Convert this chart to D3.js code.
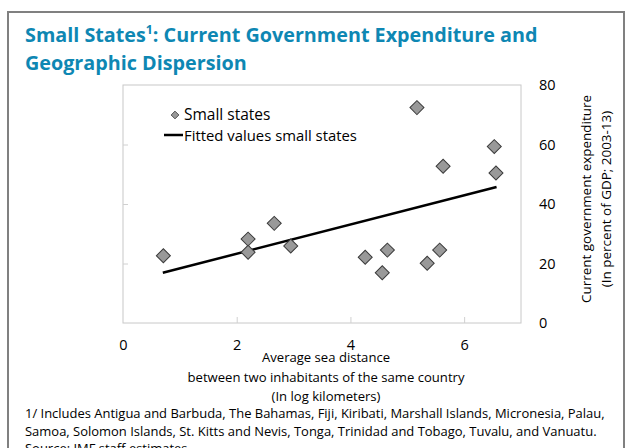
<!DOCTYPE html>
<html><head><meta charset="utf-8">
<script src="https://cdn.jsdelivr.net/npm/d3@7"></script>
<style>body{margin:0;background:#fff}svg{display:block}</style>
</head><body>
<script>
// Data
const distance = [0.71, 2.20, 2.20, 2.66, 2.95, 4.26, 4.56, 4.65, 5.17, 5.35, 5.57, 5.63, 6.53, 6.56];
const expenditure = [22.6, 28.2, 23.8, 33.5, 25.9, 22.1, 16.9, 24.5, 72.4, 20.1, 24.5, 52.7, 59.3, 50.4];
const fitX = [0.70, 6.57];
const fitY = [16.9, 45.7];
const xTicks = [0, 2, 4, 6];
const yTicks = [0, 20, 40, 60, 80];
const seriesNames = ["Small states", "Fitted values small states"];
const titleLines = ["Small States", ": Current Government Expenditure and", "Geographic Dispersion"];
const xTitle = ["Average sea distance", "between two inhabitants of the same country", "(In log kilometers)"];
const yTitle = ["Current government expenditure", "(In percent of GDP; 2003-13)"];
const notes = ["1/ Includes Antigua and Barbuda, The Bahamas, Fiji, Kiribati, Marshall Islands, Micronesia, Palau,",
  "Samoa, Solomon Islands, St. Kitts and Nevis, Tonga, Trinidad and Tobago, Tuvalu, and Vanuatu.",
  "Source: IMF staff estimates."];

const W = 626, H = 448;
const font = "'Open Sans', 'Noto Sans', sans-serif";
const svg = d3.select("body").append("svg").attr("width", W).attr("height", H);

// scale a text's font size so that it spans a target width
function fit(sel, target) {
  sel.each(function() {
    const fs = parseFloat(this.getAttribute("font-size"));
    const w = this.getComputedTextLength();
    if (w > 0) this.setAttribute("font-size", (fs * target / w).toFixed(2));
  });
}

// frame
svg.append("rect").attr("x", 8).attr("y", 12).attr("width", 616).attr("height", 450)
  .attr("fill", "none").attr("stroke", "#808080").attr("stroke-width", 2);

// title
const title = svg.append("text").attr("x", 25).attr("y", 42).attr("fill", "#0e87b3")
  .attr("font-family", font).attr("font-weight", 700).attr("font-size", 19);
title.append("tspan").text(titleLines[0]);
title.append("tspan").text("1").attr("font-size", 12).attr("dy", -8);
title.append("tspan").text(titleLines[1]).attr("dy", 8);
{
  const w = title.node().getComputedTextLength();
  const fs = 19 * 513 / w;
  title.attr("font-size", fs.toFixed(2));
  title.select("tspan:nth-child(2)").attr("font-size", (fs * 0.62).toFixed(2)).attr("dy", -fs * 0.42);
  title.select("tspan:nth-child(3)").attr("dy", fs * 0.42);
  svg.append("text").attr("x", 25).attr("y", 70).attr("fill", "#0e87b3")
    .attr("font-family", font).attr("font-weight", 700).attr("font-size", fs.toFixed(2))
    .text(titleLines[2]);
}

const L = 123, R = 521, T = 85, B = 323;
const x = d3.scaleLinear().domain([0, 7]).range([L, R]);
const y = d3.scaleLinear().domain([0, 80]).range([B, T]);

// plot border
svg.append("rect").attr("x", L).attr("y", T).attr("width", R - L).attr("height", B - T)
  .attr("fill", "none").attr("stroke", "#c8c8c8").attr("stroke-width", 1);

// inner ticks
const xAxis = svg.append("g").attr("transform", `translate(0,${B})`)
  .call(d3.axisTop(x).tickValues(xTicks.slice(1)).tickSize(6).tickFormat(""));
xAxis.select(".domain").remove();
xAxis.selectAll("line").attr("stroke", "#d0d0d0");
const xLab = svg.append("g").attr("transform", `translate(0,${B})`)
  .call(d3.axisBottom(x).tickValues(xTicks).tickSize(0).tickPadding(17).tickFormat(d3.format("d")));
xLab.select(".domain").remove();
xLab.selectAll("text").attr("font-family", font).attr("font-size", 14.5).attr("fill", "#000");

const yAxis = svg.append("g").attr("transform", `translate(${L},0)`)
  .call(d3.axisRight(y).tickValues(yTicks.slice(1, 4)).tickSize(5).tickFormat(""));
yAxis.select(".domain").remove();
yAxis.selectAll("line").attr("stroke", "#d0d0d0");
const yLab = svg.append("g").attr("transform", `translate(${R},0)`)
  .call(d3.axisRight(y).tickValues(yTicks).tickSize(0).tickPadding(18).tickFormat(d3.format("d")));
yLab.select(".domain").remove();
yLab.selectAll("text").attr("font-family", font).attr("font-size", 14.5).attr("fill", "#000");

// fitted line
svg.append("line").attr("x1", x(fitX[0])).attr("y1", y(fitY[0]))
  .attr("x2", x(fitX[1])).attr("y2", y(fitY[1]))
  .attr("stroke", "#000").attr("stroke-width", 2.5);

// points
const sym = d3.symbol().type(d3.symbolSquare).size(98);
svg.append("g").selectAll("path").data(distance).join("path")
  .attr("transform", (d, i) => `translate(${x(d)},${y(expenditure[i])}) rotate(45)`)
  .attr("d", sym).attr("fill", "#999999").attr("stroke", "#3a3a3a").attr("stroke-width", 1);

// legend
svg.append("path").attr("transform", "translate(175,115) rotate(45)")
  .attr("d", d3.symbol().type(d3.symbolSquare).size(30)).attr("fill", "#999").attr("stroke", "#3a3a3a").attr("stroke-width", 0.8);
svg.append("line").attr("x1", 164).attr("x2", 183).attr("y1", 135).attr("y2", 135)
  .attr("stroke", "#000").attr("stroke-width", 2.5);
const leg = svg.selectAll("text.leg").data(seriesNames).join("text").attr("class", "leg")
  .attr("x", 184).attr("y", (d, i) => 120 + i * 20.5).attr("font-family", font).attr("font-size", 14)
  .text(d => d);
fit(leg.filter((d, i) => i === 1), 173);
leg.filter((d, i) => i === 0).attr("font-size", svg.select("text.leg:nth-of-type(2)").empty() ? 15.5 : leg.filter((d, i) => i === 1).attr("font-size"));

// x title
const xt = svg.selectAll("text.xt").data(xTitle).join("text").attr("class", "xt")
  .attr("x", 326).attr("y", (d, i) => 362 + i * 19.5).attr("text-anchor", "middle")
  .attr("font-family", font).attr("font-size", 13).text(d => d);
fit(xt.filter((d, i) => i === 1), 277);
xt.attr("font-size", xt.filter((d, i) => i === 1).attr("font-size"));

// y title
const yt = svg.selectAll("text.yt").data(yTitle).join("text").attr("class", "yt")
  .attr("transform", (d, i) => `translate(${591 + i * 20},199) rotate(-90)`).attr("text-anchor", "middle")
  .attr("font-family", font).attr("font-size", 13).text(d => d);
fit(yt.filter((d, i) => i === 0), 208);
yt.attr("font-size", yt.filter((d, i) => i === 0).attr("font-size"));

// notes
const nt = svg.selectAll("text.nt").data(notes).join("text").attr("class", "nt")
  .attr("x", 25).attr("y", (d, i) => 418 + i * 17.5)
  .attr("font-family", font).attr("font-size", 12).text(d => d);
fit(nt.filter((d, i) => i === 0), 580);
nt.attr("font-size", nt.filter((d, i) => i === 0).attr("font-size"));
</script>
</body></html>
